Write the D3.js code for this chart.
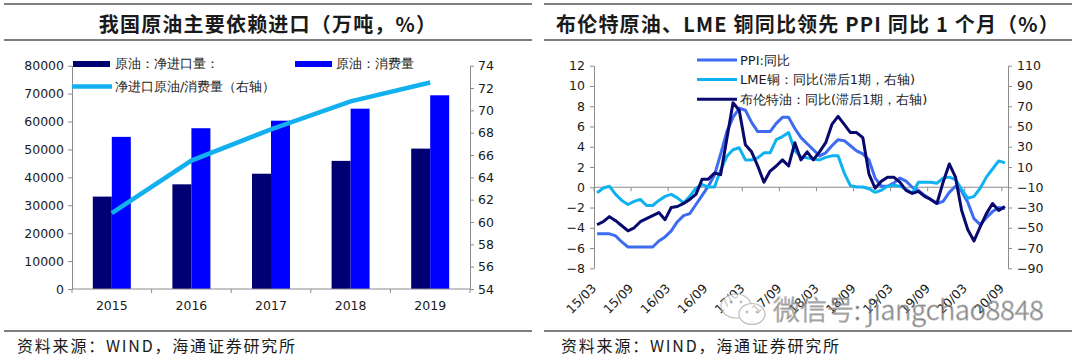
<!DOCTYPE html>
<html>
<head>
<meta charset="utf-8">
<script src="https://cdn.jsdelivr.net/npm/d3@7"></script>
<style>
  body { margin: 0; background: #fff; }
  svg { display: block; }
  text { font-family: "DejaVu Sans", sans-serif; fill: #1a1a1a; }
  .cjk { font-family: "Noto Sans CJK SC", sans-serif; }
</style>
</head>
<body>
<div id="canvas"></div>
<script>
// ---- left chart: crude oil imports vs consumption (万吨, %)
const years = ["2015", "2016", "2017", "2018", "2019"];
const netImport = [33100, 37500, 41300, 45900, 50300];
const consumption = [54500, 57600, 60300, 64600, 69400];
const importShare = [60.8, 65.5, 68.3, 70.8, 72.5];
const volTicks = [0, 10000, 20000, 30000, 40000, 50000, 60000, 70000, 80000];
const shareTicks = [54, 56, 58, 60, 62, 64, 66, 68, 70, 72, 74];

// ---- right chart: PPI yoy, LME copper & Brent yoy (lagged 1 month)
const months = d3.timeMonth.range(new Date(2015, 2, 1), new Date(2020, 9, 1)).map(d3.timeFormat("%y/%m"));
const monthTicks = ["15/03", "15/09", "16/03", "16/09", "17/03", "17/09",
  "18/03", "18/09", "19/03", "19/09", "20/03", "20/09"];
const ppi = [
  -4.6, -4.6, -4.6, -4.8, -5.4, -5.9, -5.9, -5.9, -5.9, -5.9,
  -5.3, -4.9, -4.3, -3.4, -2.8, -2.6, -1.7, -0.8, 0.1, 1.2, 3.3, 5.5,
  6.9, 7.8, 7.6, 6.4, 5.5, 5.5, 5.5, 6.3, 6.9, 6.9, 5.8, 4.9,
  4.3, 3.7, 3.1, 3.4, 4.1, 4.7, 4.6, 4.1, 3.6, 3.3, 2.7, 0.9,
  0.1, 0.1, 0.4, 0.9, 0.6, 0.0, -0.3, -0.8, -1.2, -1.6, -1.4, -0.5,
  0.1, -0.4, -1.5, -3.1, -3.7, -3.0, -2.4, -2.0, -2.1];
const lme = [
  -15.6, -10.7, -9, -17, -23, -27, -24, -22, -28, -28,
  -23, -19, -17, -20.5, -25.5, -19, -11, -7.4, -9.7, -9.7, 7, 20.6,
  27, 29, 17, 17, 19, 24, 24, 37, 40, 44, 26, 20,
  19, 18, 17, 19.5, 21, 21, 4, -8.4, -9.7, -9.7, -11.5, -15,
  -13, -9, -8, -9, -12, -16, -5, -5, -5, -6, -1, 0,
  -2.4, -12, -21, -19, -11, 0, 8, 16, 14];
const brent = [
  -47, -44, -39, -43, -48, -53, -50, -44, -41, -38,
  -35, -42, -30, -29, -26, -22, -17, -2, -2, 4, 2.5, 38,
  73.5, 66, 32, 25, 11, -5, 6, 11, 17, 11, 34, 17,
  25, 17, 25, 34, 52, 60, 52, 44, 44, 39, 3, -11,
  -4, 0, 0, -5, -13, -16, -14, -19, -22, -26, -5, 13,
  0, -33, -52, -63, -49, -36, -26, -33, -29];
const ppiAxisTicks = [-8, -6, -4, -2, 0, 2, 4, 6, 8, 10, 12];
const rhsAxisTicks = [-90, -70, -50, -30, -10, 10, 30, 50, 70, 90, 110];

const axisGray = "#8c8c8c";

const svg = d3.select("#canvas").append("svg")
  .attr("width", 1080).attr("height", 363);
svg.append("rect").attr("width", 1080).attr("height", 363).attr("fill", "#fff");

// panel frames: title rules and source rule
function frame(x0, x1, title, srcX) {
  const g = svg.append("g");
  [4, 40, 331].forEach(y => {
    g.append("line").attr("x1", x0).attr("x2", x1).attr("y1", y).attr("y2", y)
      .attr("stroke", "#555").attr("stroke-width", 1.5);
  });
  g.append("text").attr("x", (x0 + x1) / 2).attr("y", 23)
    .attr("text-anchor", "middle").attr("dominant-baseline", "central")
    .style("font-family", "'Noto Sans CJK SC', sans-serif")
    .style("font-weight", "bold").style("font-size", "20px")
    .style("letter-spacing", "1.2px")
    .text(title);
  g.append("text").attr("class", "cjk").attr("x", srcX).attr("y", 345)
    .attr("dominant-baseline", "central")
    .style("font-size", "16px").style("letter-spacing", "1.8px")
    .text("资料来源：WIND，海通证券研究所");
}
frame(4, 532, "我国原油主要依赖进口（万吨，%）", 17);
frame(544, 1072, "布伦特原油、LME 铜同比领先 PPI 同比 1 个月（%）", 561);

function styleAxis(g, size) {
  g.select(".domain").attr("stroke", axisGray);
  g.selectAll(".tick line").attr("stroke", axisGray);
  g.selectAll(".tick text").attr("fill", "#1a1a1a")
    .style("font-family", "'DejaVu Sans', sans-serif").style("font-size", size);
}

// ================= left chart =================
{
  const top = 65.7, bottom = 289, left = 72, right = 470;
  const x = d3.scaleBand().domain(years).range([left, right]);
  const y = d3.scaleLinear().domain([0, 80000]).range([bottom, top]);
  const y2 = d3.scaleLinear().domain([54, 74]).range([bottom, top]);
  const barW = 19;

  const g = svg.append("g");

  g.append("g").attr("transform", `translate(${left},0)`)
    .call(d3.axisLeft(y).tickValues(volTicks).tickSize(4).tickSizeOuter(0).tickPadding(4).tickFormat(d3.format("d")))
    .call(a => styleAxis(a, "12.5px"));
  g.append("g").attr("transform", `translate(${right},0)`)
    .call(d3.axisRight(y2).tickValues(shareTicks).tickSize(4).tickSizeOuter(0).tickPadding(4))
    .call(a => styleAxis(a, "12.5px"));

  g.selectAll(".net").data(years).enter().append("rect")
    .attr("x", d => x(d) + x.bandwidth() / 2 - barW)
    .attr("y", (d, i) => y(netImport[i]))
    .attr("width", barW)
    .attr("height", (d, i) => bottom - y(netImport[i]))
    .attr("fill", "#000073");
  g.selectAll(".cons").data(years).enter().append("rect")
    .attr("x", d => x(d) + x.bandwidth() / 2)
    .attr("y", (d, i) => y(consumption[i]))
    .attr("width", barW)
    .attr("height", (d, i) => bottom - y(consumption[i]))
    .attr("fill", "#0000ff");

  // category axis
  g.append("line").attr("x1", left).attr("x2", right).attr("y1", bottom).attr("y2", bottom)
    .attr("stroke", axisGray);
  g.selectAll(".xt").data(years.concat([null])).enter().append("line")
    .attr("x1", (d, i) => left + i * x.step()).attr("x2", (d, i) => left + i * x.step())
    .attr("y1", bottom).attr("y2", bottom + 4).attr("stroke", axisGray);
  g.selectAll(".xl").data(years).enter().append("text")
    .attr("x", d => x(d) + x.bandwidth() / 2).attr("y", 310)
    .attr("text-anchor", "middle").style("font-size", "12.5px")
    .text(d => d);

  const line = d3.line()
    .x((d, i) => x(years[i]) + x.bandwidth() / 2)
    .y(d => y2(d));
  g.append("path").datum(importShare).attr("d", line)
    .attr("fill", "none").attr("stroke", "#12b0ee").attr("stroke-width", 4.5);

  // legend
  const lg = g.append("g").attr("class", "cjk").style("font-size", "13px");
  lg.append("rect").attr("x", 73).attr("y", 61).attr("width", 37).attr("height", 6).attr("fill", "#000073");
  lg.append("text").attr("x", 115).attr("y", 63.5).attr("dominant-baseline", "central").text("原油：净进口量：");
  lg.append("rect").attr("x", 295).attr("y", 61).attr("width", 37).attr("height", 6).attr("fill", "#0000ff");
  lg.append("text").attr("x", 336).attr("y", 63.5).attr("dominant-baseline", "central").text("原油：消费量");
  lg.append("line").attr("x1", 72).attr("x2", 112).attr("y1", 86.5).attr("y2", 86.5)
    .attr("stroke", "#12b0ee").attr("stroke-width", 4.5);
  lg.append("text").attr("x", 115).attr("y", 86.5).attr("dominant-baseline", "central").text("净进口原油/消费量（右轴）");
}

// ================= right chart =================
{
  const top = 65.7, bottom = 268.3, left = 594, right = 1008;
  const x = d3.scaleBand().domain(months).range([left, right]);
  const cx = m => x(m) + x.bandwidth() / 2;
  const y = d3.scaleLinear().domain([-8, 12]).range([bottom, top]);
  const y2 = d3.scaleLinear().domain([-90, 110]).range([bottom, top]);

  const g = svg.append("g");

  g.append("g").attr("transform", `translate(${left},0)`)
    .call(d3.axisLeft(y).tickValues(ppiAxisTicks).tickSize(4).tickSizeOuter(0).tickPadding(5))
    .call(a => styleAxis(a, "12.5px"));
  g.append("g").attr("transform", `translate(${right},0)`)
    .call(d3.axisRight(y2).tickValues(rhsAxisTicks).tickSize(4).tickSizeOuter(0).tickPadding(5))
    .call(a => styleAxis(a, "12.5px"));

  // zero line with ticks at 6-month boundaries
  const y0 = y(0);
  g.append("line").attr("x1", left).attr("x2", right).attr("y1", y0).attr("y2", y0)
    .attr("stroke", axisGray).attr("stroke-width", 1.2);
  g.selectAll(".xt").data(monthTicks).enter().append("line")
    .attr("x1", d => x(d)).attr("x2", d => x(d))
    .attr("y1", y0).attr("y2", y0 + 4).attr("stroke", axisGray);
  g.selectAll(".xl").data(monthTicks).enter().append("text")
    .attr("transform", d => `translate(${cx(d)},289) rotate(-45)`)
    .attr("text-anchor", "end").style("font-size", "12.5px")
    .text(d => d);

  const lineL = d3.line().x((d, i) => cx(months[i])).y(d => y(d));
  const lineR = d3.line().x((d, i) => cx(months[i])).y(d => y2(d));

  const series = [
    { data: ppi, line: lineL, color: "#3d6cf2", name: "PPI:同比" },
    { data: lme, line: lineR, color: "#0fb2ef", name: "LME铜：同比(滞后1期，右轴)" },
    { data: brent, line: lineR, color: "#08086e", name: "布伦特油：同比(滞后1期，右轴)" }
  ];

  // legend drawn first so the lines pass over it
  const lg = g.append("g").attr("class", "cjk").style("font-size", "13px");
  series.forEach((s, k) => {
    const ly = 60 + k * 19.6;
    lg.append("line").attr("x1", 697).attr("x2", 737).attr("y1", ly).attr("y2", ly)
      .attr("stroke", s.color).attr("stroke-width", 3);
    lg.append("text").attr("x", 740).attr("y", ly).attr("dominant-baseline", "central").text(s.name);
  });

  series.forEach(s => {
    g.append("path").datum(s.data).attr("d", s.line)
      .attr("fill", "none").attr("stroke", s.color).attr("stroke-width", 3)
      .attr("stroke-linejoin", "round");
  });
}

// watermark
{
  const w = svg.append("g").attr("opacity", 0.75);
  w.append("ellipse").attr("cx", 736).attr("cy", 306).attr("rx", 15).attr("ry", 12)
    .attr("fill", "#fff").attr("stroke", "#aaa").attr("stroke-width", 1.2);
  w.append("ellipse").attr("cx", 752).attr("cy", 314).attr("rx", 13).attr("ry", 10.5)
    .attr("fill", "#fff").attr("stroke", "#aaa").attr("stroke-width", 1.2);
  [[747, 312], [757, 312], [731, 302], [741, 302]].forEach(p => {
    w.append("circle").attr("cx", p[0]).attr("cy", p[1]).attr("r", 1.4).attr("fill", "#aaa");
  });
  w.append("text").attr("x", 773).attr("y", 320)
    .style("font-family", "'Noto Sans CJK SC', sans-serif").style("font-size", "27px")
    .style("font-weight", "300")
    .attr("fill", "#fff").attr("stroke", "#9a9a9a").attr("stroke-width", 0.9)
    .text("微信号: jiangchao8848");
}
</script>
</body>
</html>
